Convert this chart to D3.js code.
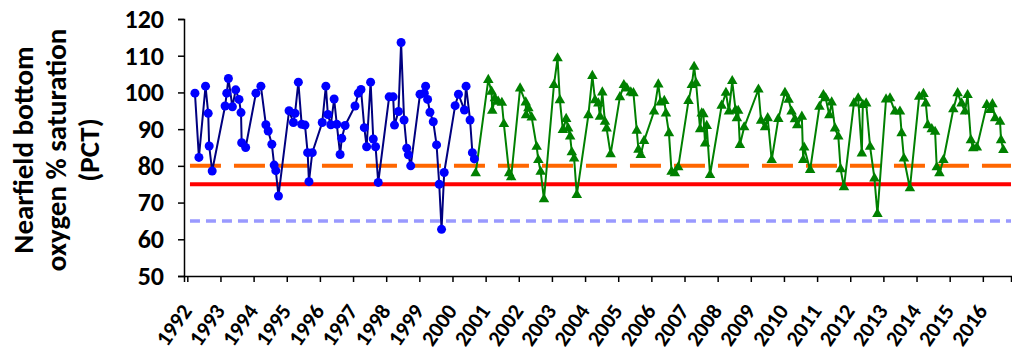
<!DOCTYPE html>
<html>
<head>
<meta charset="utf-8">
<script src="https://cdn.jsdelivr.net/npm/d3@7"></script>
<style>
  body { margin: 0; background: #fff; }
  svg { display: block; }
  text { font-family: Carlito, Calibri, Lato, "Liberation Sans", sans-serif; font-weight: bold; fill: #000; }
</style>
</head>
<body>
<div id="wrapper"></div>
<script>
// 1992-2000 series (decimal year, % saturation)
const earlyYears = [1992.23, 1992.35, 1992.55, 1992.63, 1992.66, 1992.75,
  1993.14, 1993.19, 1993.24, 1993.36, 1993.46, 1993.56, 1993.62, 1993.64, 1993.76,
  1994.07, 1994.22, 1994.37, 1994.44, 1994.55, 1994.62, 1994.67, 1994.75,
  1995.07, 1995.20, 1995.25, 1995.35, 1995.45, 1995.55, 1995.63, 1995.67, 1995.77,
  1996.07, 1996.18, 1996.24, 1996.33, 1996.43, 1996.51, 1996.61, 1996.66, 1996.76,
  1997.06, 1997.16, 1997.24, 1997.34, 1997.41, 1997.53, 1997.61, 1997.68, 1997.76,
  1998.09, 1998.21, 1998.25, 1998.37, 1998.45, 1998.54, 1998.62, 1998.67, 1998.74,
  1999.02, 1999.15, 1999.19, 1999.25, 1999.32, 1999.42, 1999.52, 1999.60, 1999.67, 1999.75,
  2000.08, 2000.18, 2000.36, 2000.41, 2000.53, 2000.60, 2000.66];
const earlyValues = [99.8, 82.3, 101.7, 94.3, 85.4, 78.6,
  96.3, 99.8, 103.8, 96.1, 100.7, 98.1, 94.5, 86.3, 85,
  99.8, 101.7, 91.2, 89.5, 85.9, 80.2, 78.7, 71.8,
  95, 91.8, 94.3, 102.8, 91.3, 91.1, 83.6, 75.7, 83.6,
  91.8, 101.7, 94, 91.2, 98.2, 91.3, 83.1, 87.5, 91,
  96.3, 99.8, 100.8, 90.4, 85.2, 102.8, 87.3, 85.2, 75.5,
  98.8, 98.8, 91.1, 94.8, 113.6, 92.5, 84.8, 83, 80,
  99.5, 99.8, 101.7, 98.1, 94.6, 92, 85.7, 75, 62.7, 78.2,
  96.4, 99.5, 95.2, 101.7, 92.5, 83.6, 81.9];

// 2000-2016 series
const lateYears = [2000.70,
  2001.08, 2001.18, 2001.20, 2001.28, 2001.38, 2001.49, 2001.55, 2001.71, 2001.77,
  2002.04, 2002.21, 2002.22, 2002.29, 2002.39, 2002.54, 2002.59, 2002.66, 2002.76,
  2003.06, 2003.17, 2003.24, 2003.33, 2003.43, 2003.49, 2003.55, 2003.60, 2003.67, 2003.75,
  2004.10, 2004.22, 2004.30, 2004.40, 2004.45, 2004.52, 2004.60, 2004.65, 2004.77,
  2005.05, 2005.17, 2005.26, 2005.38, 2005.46, 2005.56, 2005.61, 2005.68, 2005.78,
  2006.08, 2006.21, 2006.28, 2006.39, 2006.44, 2006.53, 2006.61, 2006.71, 2006.81,
  2007.12, 2007.22, 2007.29, 2007.35, 2007.47, 2007.52, 2007.57, 2007.62, 2007.67, 2007.77,
  2008.12, 2008.25, 2008.34, 2008.44, 2008.54, 2008.58, 2008.62, 2008.67, 2008.80,
  2009.23, 2009.31, 2009.43, 2009.51, 2009.63, 2009.83,
  2010.03, 2010.14, 2010.23, 2010.33, 2010.40, 2010.54, 2010.58, 2010.61, 2010.79,
  2011.07, 2011.19, 2011.26, 2011.37, 2011.44, 2011.54, 2011.64, 2011.71, 2011.81,
  2012.11, 2012.24, 2012.35, 2012.38, 2012.48, 2012.60, 2012.73, 2012.82,
  2013.08, 2013.20, 2013.35, 2013.50, 2013.55, 2013.62, 2013.80,
  2014.08, 2014.21, 2014.28, 2014.34, 2014.46, 2014.56, 2014.61, 2014.69, 2014.81,
  2015.11, 2015.24, 2015.36, 2015.46, 2015.54, 2015.64, 2015.71, 2015.82,
  2016.12, 2016.22, 2016.29, 2016.37, 2016.52, 2016.55, 2016.62];
const lateValues = [78,
  103.4, 100.2, 95, 98.4, 97.5, 97.2, 91.4, 78, 76.9,
  101.1, 97.3, 93.8, 95.7, 93.2, 85.2, 81.6, 78.4, 70.9,
  102, 109.3, 97.9, 89.8, 92.8, 90.2, 88, 83.7, 82, 72.1,
  93.8, 104.5, 97.9, 97, 93.4, 100, 92, 90.2, 83.2,
  98.7, 102, 101.1, 100, 99.8, 89.6, 84.4, 83, 86.8,
  94.8, 102.2, 97.3, 97.7, 94.3, 88.9, 78.4, 78, 79.6,
  97.7, 102, 107, 102.5, 90, 94.3, 94.1, 86.1, 90.9, 77.5,
  96.4, 99.9, 94.8, 103.1, 95.2, 93, 95, 85.7, 90.5,
  100.8, 92.3, 90.5, 93, 81.6, 92.8,
  99.9, 98, 94.8, 92.7, 91.1, 93.4, 81.6, 85, 78.9,
  96.1, 99.3, 98.4, 93.8, 97.3, 90.2, 88, 79.1, 74.2,
  97, 98.4, 83.4, 96.6, 97, 85.2, 76.6, 66.9,
  98.1, 98.4, 94.8, 94.8, 88.9, 82, 73.9,
  98.8, 99.6, 97, 91.1, 90, 89.3, 79.6, 78, 81.6,
  95.4, 99.8, 97, 94.8, 99.3, 87, 84.8, 85,
  96.6, 95.2, 96.8, 93, 92, 87, 84.3];

// reference levels
const orangeLevel = [80];
const redLevel = [75];
const blueLevel = [65];
const levelSpan = [1992.08, 2016.85];

const yTicks = [50, 60, 70, 80, 90, 100, 110, 120];
const yearTicks = d3.range(1992, 2017);
const titleLines = ['Nearfield bottom', 'oxygen % saturation', '(PCT)'];

const width = 1012, height = 355;
const svg = d3.select('#wrapper').append('svg')
  .attr('width', width).attr('height', height);

const x = d3.scaleLinear().domain([1991.9, 2016.85]).range([184, 1011]);
const y = d3.scaleLinear().domain([50, 120]).range([276, 19]);

// axis title
const title = svg.append('text')
  .attr('transform', 'translate(0,150) rotate(-90)')
  .attr('text-anchor', 'middle')
  .style('font-size', '29px');
titleLines.forEach((t, i) => {
  title.append('tspan').attr('x', 0).attr('y', 33 + i * 33).text(t);
});

// y axis
const yAxis = svg.append('g')
  .attr('transform', `translate(${x.range()[0]},0)`)
  .call(d3.axisLeft(y).tickValues(yTicks).tickSize(6).tickPadding(14));
yAxis.select('.domain').attr('stroke', '#000').attr('stroke-width', 1.5);
yAxis.selectAll('.tick line').attr('stroke', '#000').attr('stroke-width', 1.5);
yAxis.selectAll('.tick text').style('font-size', '26px').style('font-family', null);

// x axis
const xAxis = svg.append('g')
  .attr('transform', `translate(0,${y(50)})`)
  .call(d3.axisBottom(x).tickValues(yearTicks).tickFormat(d3.format('d')).tickSizeOuter(0).tickSize(6));
xAxis.select('.domain').attr('stroke', '#000').attr('stroke-width', 1.5);
xAxis.selectAll('.tick line').attr('stroke', '#000').attr('stroke-width', 1.5);
xAxis.selectAll('.tick text')
  .style('font-size', '22px').style('font-family', null)
  .attr('text-anchor', 'end')
  .attr('dy', null)
  .attr('y', 0)
  .attr('transform', 'translate(5,35) rotate(-55)');

// reference lines
const level = (v, color, w, dash) => svg.append('line')
  .attr('x1', x(levelSpan[0])).attr('x2', x(levelSpan[1]))
  .attr('y1', y(v)).attr('y2', y(v))
  .attr('stroke', color).attr('stroke-width', w)
  .attr('stroke-dasharray', dash);
level(blueLevel[0], '#9999ff', 3.5, '10,6');
level(orangeLevel[0], '#ff6600', 4, '31,13');
level(redLevel[0], '#ff0000', 4, null);

const line = d3.line().x(d => x(d[0])).y(d => y(d[1]));

const early = d3.zip(earlyYears, earlyValues);
const late = d3.zip(lateYears, lateValues);

svg.append('path').datum(late)
  .attr('d', line).attr('fill', 'none')
  .attr('stroke', '#008000').attr('stroke-width', 2);
svg.selectAll('.tri').data(late).enter().append('path')
  .attr('class', 'tri')
  .attr('transform', d => `translate(${x(d[0])},${y(d[1])})`)
  .attr('d', d3.symbol().type(d3.symbolTriangle).size(48))
  .attr('fill', '#008000');

svg.append('path').datum(early)
  .attr('d', line).attr('fill', 'none')
  .attr('stroke', '#000080').attr('stroke-width', 2);
svg.selectAll('.dot').data(early).enter().append('circle')
  .attr('class', 'dot')
  .attr('cx', d => x(d[0])).attr('cy', d => y(d[1]))
  .attr('r', 4.5)
  .attr('fill', '#0000ff');
</script>
</body>
</html>
